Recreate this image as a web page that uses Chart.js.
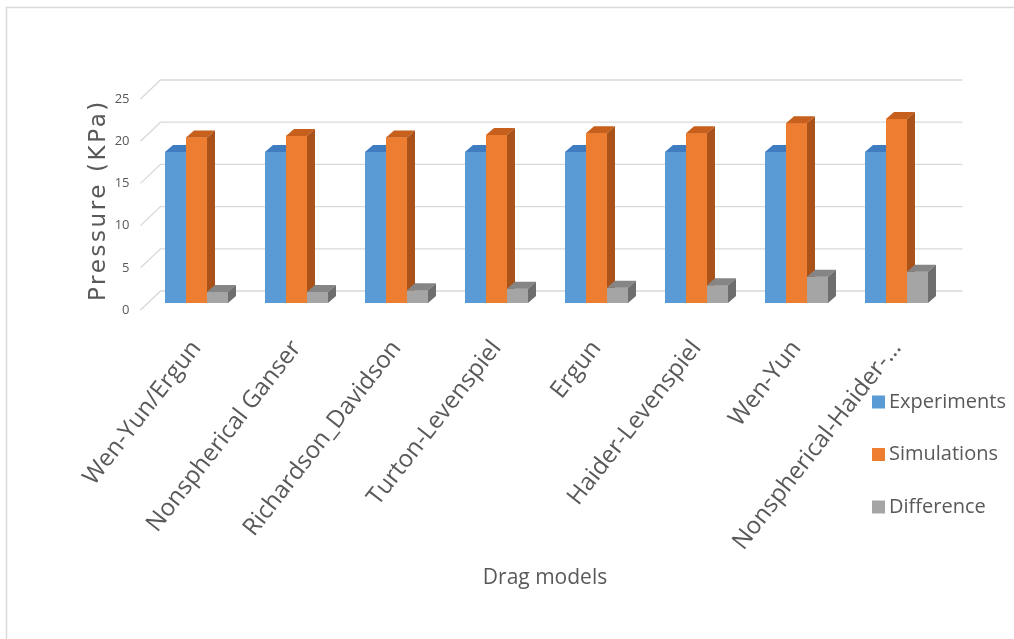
<!DOCTYPE html>
<html>
<head>
<meta charset="utf-8">
<script src="https://cdn.jsdelivr.net/npm/chart.js@4.4.1/dist/chart.umd.min.js"></script>
<style>
  html, body { margin: 0; padding: 0; background: #ffffff; }
  #wrap { width: 1014px; height: 639px; position: relative; }
</style>
</head>
<body>
<div id="wrap"><canvas id="c" width="1014" height="639"></canvas></div>
<script>
// Drag models compared: measured vs simulated pressure drop (KPa)
const dragModels = ['Wen-Yun/Ergun', 'Nonspherical Ganser', 'Richardson_Davidson', 'Turton-Levenspiel',
                    'Ergun', 'Haider-Levenspiel', 'Wen-Yun', 'Nonspherical-Haider-\u2026'];
const experiments = [17.9, 17.9, 17.9, 17.9, 17.9, 17.9, 17.9, 17.9];
const simulations = [19.6, 19.8, 19.6, 19.9, 20.1, 20.1, 21.3, 21.8];
const difference  = [1.3, 1.3, 1.5, 1.7, 1.8, 2.1, 3.1, 3.7];
const seriesNames = ['Experiments', 'Simulations', 'Difference'];
const yTicks = [0, 5, 10, 15, 20, 25];

const yTitle = 'Pressure (KPa)';
const xTitle = 'Drag models';

// front / top / side shades for each series
const frontColors = ['#5B9BD5', '#ED7D31', '#A5A5A5'];
const topColors   = ['#3F7DC0', '#C7601D', '#858585'];
const sideColors  = ['#3A6E9E', '#A9521A', '#6E6E6E'];

const DEPTH_X = 8, DEPTH_Y = -7;          // column depth offset
const WALL_BACK = { dx: 14, dy: -12 };     // back wall relative to column plane
const WALL_FRONT = { dx: -6, dy: 7 };      // front edge relative to column plane
const GRID = '#D9D9D9';
const TEXT = '#595959';

// frame around the chart
const framePlugin = {
  id: 'frame',
  beforeDraw(chart) {
    const ctx = chart.ctx;
    ctx.save();
    ctx.fillStyle = '#ffffff';
    ctx.fillRect(0, 0, chart.width, chart.height);
    ctx.strokeStyle = GRID;
    ctx.lineWidth = 1.5;
    ctx.beginPath();
    ctx.moveTo(6.5, chart.height);
    ctx.lineTo(6.5, 7.5);
    ctx.lineTo(chart.width, 7.5);
    ctx.stroke();
    ctx.restore();
  }
};

// back wall gridlines and side-wall diagonals
const wallPlugin = {
  id: 'walls',
  beforeDatasetsDraw(chart) {
    const ctx = chart.ctx, area = chart.chartArea, ys = chart.scales.y;
    ctx.save();
    ctx.strokeStyle = GRID;
    ctx.lineWidth = 1.3;
    ys.ticks.forEach(t => {
      const py = ys.getPixelForValue(t.value);
      const bl = area.left + WALL_BACK.dx, br = area.right + WALL_BACK.dx + 2, by = py + WALL_BACK.dy;
      ctx.beginPath();
      ctx.moveTo(area.left + WALL_FRONT.dx, py + WALL_FRONT.dy);
      ctx.lineTo(bl, by);
      ctx.lineTo(br, by);
      ctx.stroke();
    });
    ctx.restore();
  }
};

// solid columns: front, top and side faces, drawn left to right per category
const columnPlugin = {
  id: 'columns',
  afterDatasetsDraw(chart) {
    const ctx = chart.ctx;
    const metas = chart.data.datasets.map((d, k) => chart.getDatasetMeta(k));
    ctx.save();
    chart.data.labels.forEach((lab, i) => {
      metas.forEach((meta, k) => {
        const p = meta.data[i].getProps(['x', 'y', 'base', 'width'], true);
        const l = p.x - p.width / 2, r = p.x + p.width / 2;
        ctx.fillStyle = frontColors[k];
        ctx.fillRect(l, p.y, p.width, p.base - p.y);
        ctx.fillStyle = topColors[k];
        ctx.beginPath();
        ctx.moveTo(l, p.y);
        ctx.lineTo(r, p.y);
        ctx.lineTo(r + DEPTH_X, p.y + DEPTH_Y);
        ctx.lineTo(l + DEPTH_X, p.y + DEPTH_Y);
        ctx.closePath();
        ctx.fill();
        ctx.fillStyle = sideColors[k];
        ctx.beginPath();
        ctx.moveTo(r, p.y);
        ctx.lineTo(r + DEPTH_X, p.y + DEPTH_Y);
        ctx.lineTo(r + DEPTH_X, p.base + DEPTH_Y);
        ctx.lineTo(r, p.base);
        ctx.closePath();
        ctx.fill();
      });
    });
    ctx.restore();
  }
};

// axis titles and legend
const labelPlugin = {
  id: 'labels',
  afterDraw(chart) {
    const ctx = chart.ctx;
    ctx.save();
    ctx.fillStyle = TEXT;
    ctx.textAlign = 'center';
    ctx.textBaseline = 'middle';

    ctx.save();
    ctx.translate(99, 200);
    ctx.rotate(-Math.PI / 2);
    ctx.font = '23px "DejaVu Sans"';
    ctx.letterSpacing = '2.6px';
    ctx.fillText(yTitle, 0, 0);
    ctx.restore();

    ctx.font = '21px "Open Sans"';
    ctx.fillText(xTitle, 545, 578);

    ctx.textAlign = 'left';
    ctx.font = '20px "Open Sans"';
    chart.data.datasets.forEach((ds, k) => {
      const cy = 402 + k * 52.5;
      ctx.fillStyle = ds.backgroundColor;
      ctx.fillRect(872, cy - 6.5, 13, 13);
      ctx.fillStyle = TEXT;
      ctx.fillText(ds.label, 889, cy);
    });
    ctx.restore();
  }
};

const seriesData = [experiments, simulations, difference];

new Chart(document.getElementById('c'), {
  type: 'bar',
  data: {
    labels: dragModels,
    datasets: seriesNames.map((name, k) => ({
      label: name,
      data: seriesData[k],
      backgroundColor: frontColors[k],
      borderWidth: 0,
      categoryPercentage: 0.63,
      barPercentage: 1.0
    }))
  },
  options: {
    responsive: false,
    animation: false,
    layout: { padding: { left: 0, right: 67.5, top: 92, bottom: 0 } },
    plugins: { legend: { display: false }, tooltip: { enabled: false } },
    scales: {
      x: {
        grid: { display: false, drawTicks: false },
        border: { display: false },
        ticks: {
          autoSkip: false, minRotation: 52, maxRotation: 52, padding: 32,
          color: TEXT, font: { family: 'Open Sans', size: 24 }
        },
        afterFit(s) { s.height = 336; }
      },
      y: {
        min: 0, max: 25,
        grid: { display: false, drawTicks: false },
        border: { display: false },
        afterBuildTicks(s) { s.ticks = yTicks.map(v => ({ value: v })); },
        ticks: {
          padding: 17, labelOffset: 7,
          color: TEXT, font: { family: 'Open Sans', size: 13 }
        },
        afterFit(s) { s.width = 146.5; }
      }
    }
  },
  plugins: [framePlugin, wallPlugin, columnPlugin, labelPlugin]
});
</script>
</body>
</html>
